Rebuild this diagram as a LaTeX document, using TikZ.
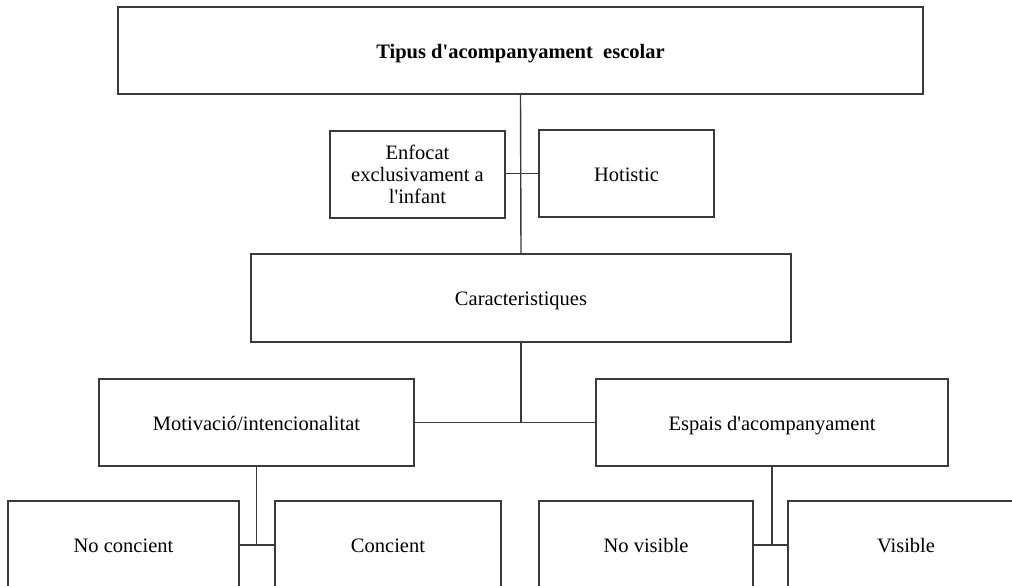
\documentclass[tikz,border=0pt]{standalone}
\usepackage{fontspec}
\setmainfont{Liberation Serif}[Ligatures=TeXOff]
\definecolor{edge}{HTML}{3A3A3A}
\begin{document}
\begin{tikzpicture}[x=1pt,y=-1pt,
  box/.style={draw=edge,line width=1.6pt,fill=white,inner sep=0pt,align=center,
    font=\fontsize{20.5}{22}\selectfont},
  one/.style={box,text height=17pt,text depth=1.5pt},
  link/.style={draw=edge,line width=1.4pt}]
\useasboundingbox (0,0) rectangle (1012,586);
\clip (0,0) rectangle (1012,586);
% nodes (centre, width, height)
\node[one,minimum width=805pt,minimum height=87pt,font=\fontsize{20.5}{22}\selectfont\bfseries] (top) at (520.5,50.5) {Tipus d'acompanyament\ \ escolar};
\node[box,minimum width=175pt,minimum height=87pt] (enf) at (417.5,174.5) {Enfocat\\exclusivament a\\l'infant};
\node[one,minimum width=175pt,minimum height=87pt] (hot) at (626.5,173.5) {Hotistic};
\node[one,minimum width=540pt,minimum height=88pt] (car) at (521,298) {Caracteristiques};
\node[one,minimum width=315pt,minimum height=87pt] (mot) at (256.5,422.5) {Motivació/intencionalitat};
\node[one,minimum width=352pt,minimum height=87pt] (esp) at (772,422.5) {Espais d'acompanyament};
\node[one,minimum width=231pt,minimum height=88pt] (nc) at (123.5,545) {No concient};
\node[one,minimum width=226pt,minimum height=88pt] (co) at (388,545) {Concient};
\node[one,minimum width=214pt,minimum height=88pt] (nv) at (646,545) {No visible};
\node[one,minimum width=236pt,minimum height=88pt] (vi) at (906,545) {Visible};
% connectors
\draw[link] (top.south) -- (car.north);
\draw[link] (enf.east |- hot.west) -- (hot.west);
\draw[link] (car.south) -- (car.south |- mot.east);
\draw[link] (mot.east) -- (esp.west);
\draw[link] (mot.south) -- (mot.south |- nc.east);
\draw[link] (nc.east) -- (co.west);
\draw[link] (esp.south) -- (esp.south |- nv.east);
\draw[link] (nv.east) -- (vi.west);
\end{tikzpicture}
\end{document}
